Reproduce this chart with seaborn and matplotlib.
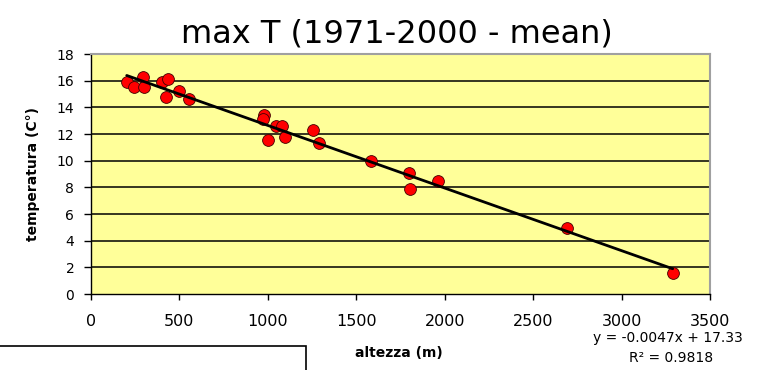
import matplotlib
matplotlib.use("Agg")
import matplotlib.pyplot as plt
import seaborn as sns
import pandas as pd
from matplotlib.patches import Rectangle

# ---- data ----
altezza = [202, 245, 296, 301, 403, 437, 422, 498, 554,
           980, 971, 999, 1046, 1078, 1095, 1257, 1291,
           1581, 1798, 1804, 1964, 2693, 3289]
temperatura = [15.92, 15.5, 16.3, 15.55, 15.92, 16.1, 14.75, 15.25, 14.6,
               13.4, 13.1, 11.55, 12.6, 12.6, 11.8, 12.3, 11.3,
               10.0, 9.04, 7.86, 8.5, 4.93, 1.55]
x_ticks = [0, 500, 1000, 1500, 2000, 2500, 3000, 3500]
y_ticks = [0, 2, 4, 6, 8, 10, 12, 14, 16, 18]
title = "max T (1971-2000 - mean)"
x_label = "altezza (m)"
y_label = "temperatura (C°)"
eq_text = "y = -0.0047x + 17.33"
r2_text = "R² = 0.9818"

sns.set_theme(style="white")
plt.rcParams['font.family'] = ['DejaVu Sans']
plt.rcParams['text.color'] = 'black'
plt.rcParams['axes.labelcolor'] = 'black'
plt.rcParams['xtick.color'] = 'black'
plt.rcParams['ytick.color'] = 'black'

W, H = 759, 370
fig = plt.figure(figsize=(W / 100, H / 100), dpi=100)
fig.patch.set_facecolor('white')
ax = fig.add_axes([91 / W, 1 - 294 / H, (710 - 91) / W, (294 - 54) / H])
ax.set_facecolor('#FFFF99')

df = pd.DataFrame({'altezza': altezza, 'temperatura': temperatura})
sns.regplot(data=df, x='altezza', y='temperatura', ci=None, ax=ax,
            color='#FF0000',
            scatter_kws=dict(s=72, edgecolor='#400000', linewidths=0.6,
                             alpha=1, zorder=3),
            line_kws=dict(color='black', lw=2.0, zorder=4))

ax.set_xlim(x_ticks[0], x_ticks[-1])
ax.set_ylim(y_ticks[0], y_ticks[-1])
ax.set_xticks(x_ticks)
ax.set_yticks(y_ticks)
ax.set_xlabel('')
ax.set_ylabel('')

ax.set_axisbelow(True)
ax.grid(axis='y', color='black', lw=1.1)
ax.grid(axis='x', visible=False)
for gl, t in zip(ax.get_ygridlines(), y_ticks):
    if t in (y_ticks[0], y_ticks[-1]):
        gl.set_visible(False)

for side in ('left', 'bottom'):
    ax.spines[side].set_color('black')
    ax.spines[side].set_linewidth(1.0)
for side in ('top', 'right'):
    ax.spines[side].set_color('#A0A0A0')
    ax.spines[side].set_linewidth(1.5)

ax.tick_params(axis='x', direction='out', length=4.5, width=1, color='black',
               labelcolor='black', labelsize=11.5, pad=10, bottom=True)
ax.tick_params(axis='y', direction='out', length=5, width=1, color='black',
               labelcolor='black', labelsize=10, pad=7, left=True)

fig.text(397 / W, 1 - 42.5 / H, title, ha='center', va='baseline',
         fontsize=23, color='black')
fig.text(399 / W, 1 - 353 / H, x_label, ha='center', va='center',
         fontsize=10, fontweight='bold', color='black')
fig.text(33 / W, 1 - 174 / H, y_label, ha='center', va='center',
         rotation=90, fontsize=10, fontweight='bold', color='black')
fig.text(668 / W, 1 - 338 / H, eq_text, ha='center', va='center',
         fontsize=10, color='black')
fig.text(671 / W, 1 - 358 / H, r2_text, ha='center', va='center',
         fontsize=10, color='black')

fig.patches.append(Rectangle((-0.01, -0.1), 306 / W + 0.01, 0.1 + (1 - 346 / H),
                             transform=fig.transFigure, fill=False,
                             edgecolor='black', lw=1.2))

fig.savefig('out.png', dpi=100)
